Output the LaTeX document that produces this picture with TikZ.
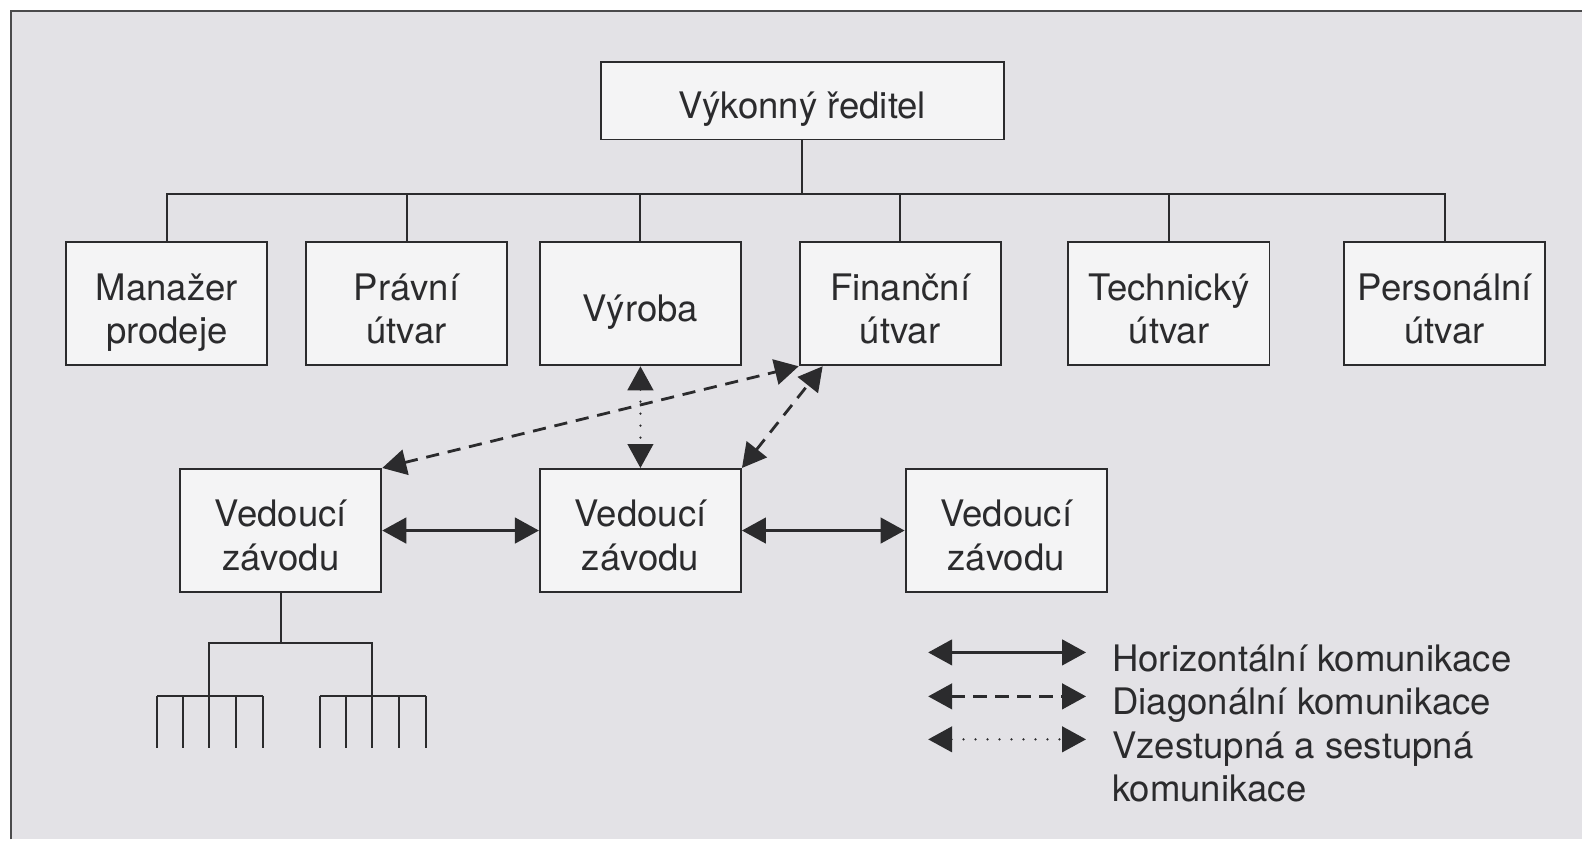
\documentclass[tikz,border=0pt]{standalone}
\usepackage{fontspec}
\setmainfont{TeX Gyre Heros}
\usepackage{tikz}
\usetikzlibrary{arrows.meta,positioning,calc}
\definecolor{scanbg}{HTML}{E3E2E6}
\definecolor{boxbg}{HTML}{F4F4F5}
\definecolor{ink}{HTML}{2B2B2D}
\newcommand{\boxtext}[1]{\begin{tabular}{@{}c@{}}\rule{0pt}{35pt}#1\end{tabular}}

\begin{document}
\begin{tikzpicture}[x=0.025cm,y=-0.025cm,font=\fontsize{26}{31}\selectfont,text=ink]
        \tikzstyle{unit}=[draw=ink,line width=1.4pt,fill=boxbg,minimum width=5.03cm,minimum height=3.08cm,inner sep=0pt]
        \tikzstyle{boss}=[unit,minimum width=10.08cm,minimum height=1.93cm]
        \tikzstyle{link}=[draw=ink,line width=1.4pt]
        \tikzstyle{com}=[draw=ink,line width=2pt,{Triangle[length=0.6cm,width=0.64cm]}-{Triangle[length=0.6cm,width=0.64cm]}]
        \tikzstyle{diag}=[com,dash pattern=on 0.33cm off 0.22cm]
        \tikzstyle{updown}=[com,line width=1.8pt,line cap=round,dash pattern=on 0pt off 0.3cm]
        \tikzstyle{note}=[anchor=base west,inner sep=0pt]
        % scanned page background
        \fill[white] (0,0) rectangle (1583,840);
        \fill[scanbg] (11,11) rectangle (1583,840);
        \draw[ink!85,line width=2pt] (11,840) -- (11,11) -- (1583,11);
        \useasboundingbox (0,0) rectangle (1583,840);
        \node[boss] (ceo)    at (803,101) {\boxtext{Výkonný ředitel}};
        \node[unit] (sales)  at (167,304) {\boxtext{Manažer\\prodeje}};
        \node[unit] (legal)  at (407,304) {\boxtext{Právní\\útvar}};
        \node[unit] (prod)   at (641,304) {\boxtext{Výroba}};
        \node[unit] (fin)    at (901,304) {\boxtext{Finanční\\útvar}};
        \node[unit] (tech)   at (1170,304) {\boxtext{Technický\\útvar}};
        \node[unit] (hr)     at (1446,304) {\boxtext{Personální\\útvar}};
        \node[unit] (plantA) at (281,531) {\boxtext{Vedoucí\\závodu}};
        \node[unit] (plantB) at (641,531) {\boxtext{Vedoucí\\závodu}};
        \node[unit] (plantC) at (1007,531) {\boxtext{Vedoucí\\závodu}};
        % line management
        \coordinate (bus) at ($(ceo.south)+(0,54)$);
        \draw[link] (ceo.south) -- (bus);
        \draw[link] (sales.north) |- (bus) -| (hr.north);
        \foreach \n in {legal,prod,fin,tech}
          \draw[link] (\n.north) -- (\n.north |- bus);
        % communication
        \draw[com] (plantA.east) -- (plantB.west);
        \draw[com] (plantB.east) -- (plantC.west);
        \draw[updown] (prod.south) -- (plantB.north);
        \draw[diag] (plantA.north east) -- (fin.south west);
        \draw[diag] (plantB.north east) -- ($(fin.south west)+(24,0)$);
        % lower levels under one plant
        \coordinate (fork)  at ($(plantA.south)+(0,50)$);
        \coordinate (forkL) at ($(fork)+(-72,53)$);
        \coordinate (forkR) at ($(fork)+(91,53)$);
        \draw[link] (plantA.south) -- (fork);
        \draw[link] (forkL) |- (fork) -| (forkR);
        \foreach \s in {forkL,forkR}{
          \draw[link] ($(\s)+(-52,0)$) -- ($(\s)+(54,0)$);
          \foreach \dx in {-52,-26,0,27,54}
            \draw[link] ($(\s)+(\dx,0)$) -- ($(\s)+(\dx,52)$);
        }
        % legend
        \foreach \st/\k/\y in {com/h/653,diag/d/697,updown/v/740}{
          \coordinate (key\k) at (929,\y);
          \coordinate (key\k end) at (1087,\y);
          \draw[\st] (key\k) -- (key\k end);
        }
        \node[note] (txh)  at (1113,672) {Horizontální komunikace};
        \node[note] (txd)  at (1113,715) {Diagonální komunikace};
        \node[note] (txv)  at (1113,759) {Vzestupná a sestupná};
        \node[note] (txv2) at (1113,802) {komunikace};
      \end{tikzpicture}
\end{document}
